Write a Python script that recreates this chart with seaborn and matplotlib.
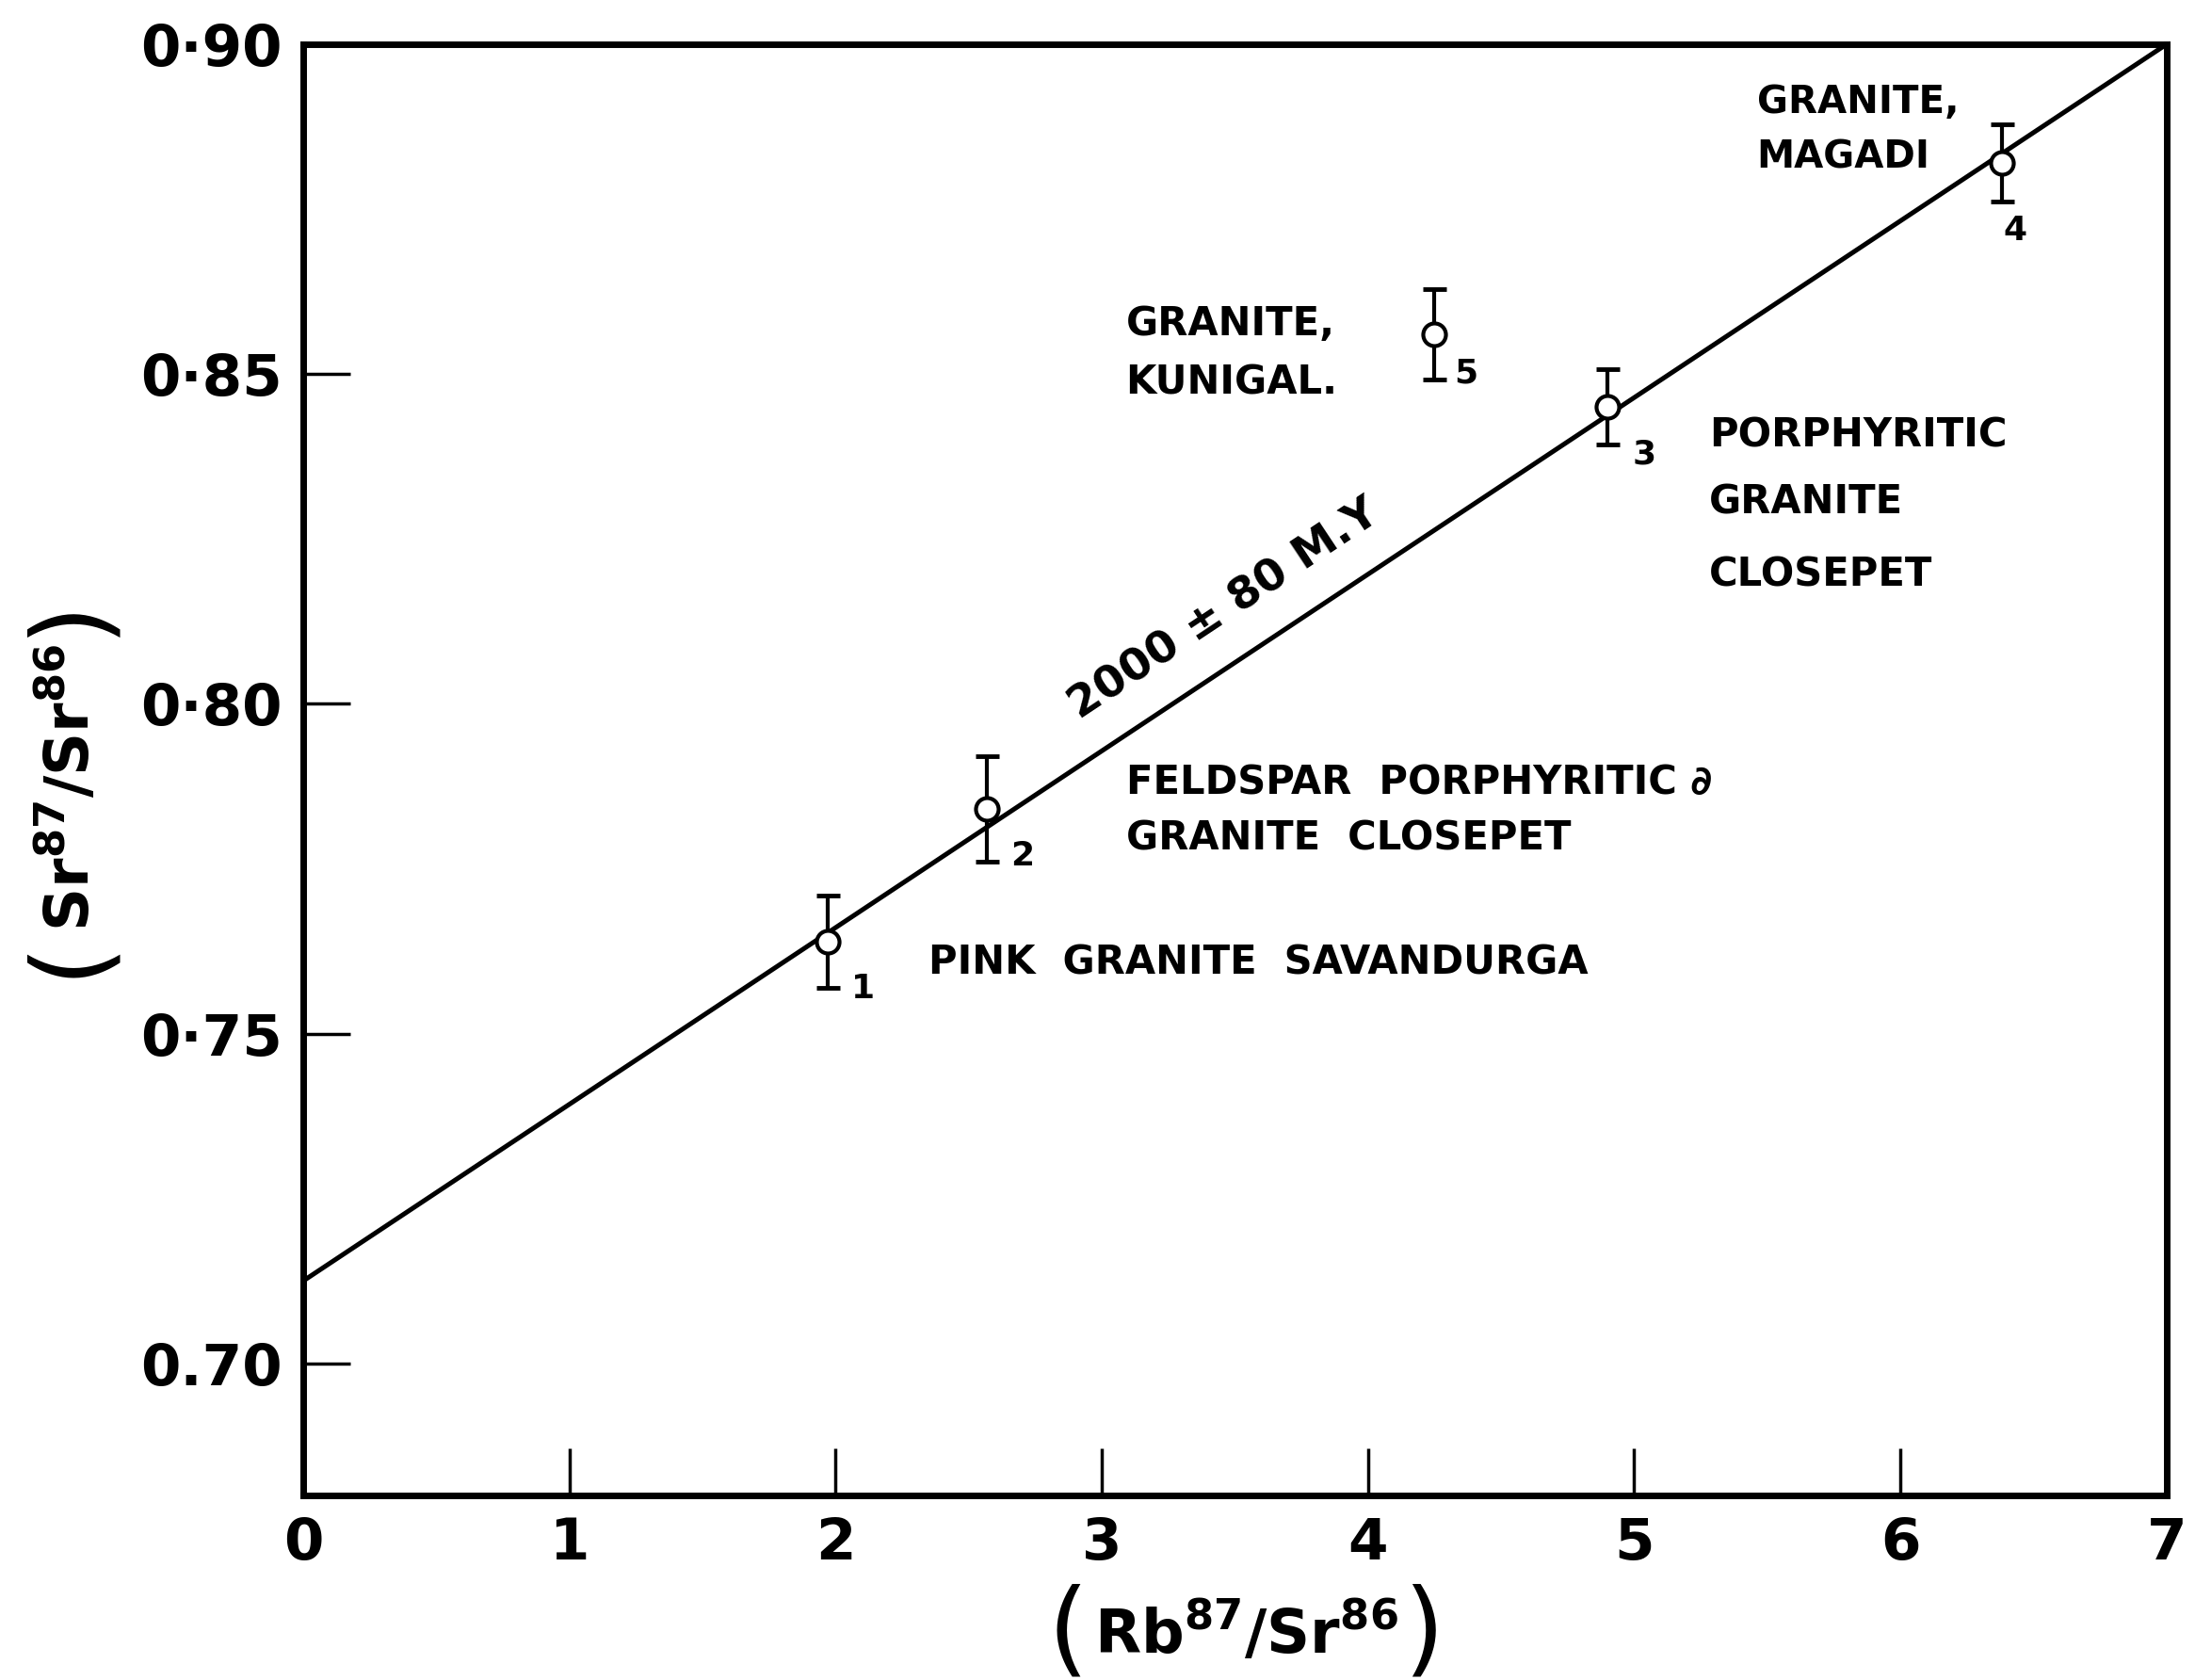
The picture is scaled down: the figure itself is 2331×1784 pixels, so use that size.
import numpy as np
import pandas as pd
import matplotlib
matplotlib.use("Agg")
import matplotlib.pyplot as plt
import seaborn as sns

# Whole-rock samples: Rb87/Sr86 against Sr87/Sr86 with their error bars
sample_ids = ["1", "2", "3", "4", "5"]
rb_sr = [1.97, 2.57, 4.90, 6.38, 4.25]
sr_sr = [0.764, 0.784, 0.845, 0.882, 0.856]
sr_err = [0.007, 0.008, 0.0057, 0.0059, 0.0068]

# Isochron line (2000 ± 80 m.y.)
iso_x = [0.0, 7.0]
iso_y = [0.7125, 0.900]

x_ticks = [0, 1, 2, 3, 4, 5, 6, 7]
x_tick_labels = ["0", "1", "2", "3", "4", "5", "6", "7"]
y_ticks = [0.70, 0.75, 0.80, 0.85, 0.90]
y_tick_labels = ["0.70", "0·75", "0·80", "0·85", "0·90"]

# Rock descriptions written beside the samples
rock_labels = [
    ("GRANITE,", 5.46, 0.8911, 29),
    ("MAGADI", 5.46, 0.8828, 29),
    ("GRANITE,", 3.09, 0.8576, 30),
    ("KUNIGAL.", 3.09, 0.8487, 30),
    ("PORPHYRITIC", 5.28, 0.8407, 30),
    ("GRANITE", 5.28, 0.8305, 30),
    ("CLOSEPET", 5.28, 0.8195, 30),
    ("FELDSPAR  PORPHYRITIC ∂", 3.09, 0.7881, 30),
    ("GRANITE  CLOSEPET", 3.09, 0.7796, 30),
    ("PINK  GRANITE  SAVANDURGA", 2.35, 0.7607, 30),
]
age_label = "2000 ± 80 M.Y"
x_title = r"Rb$^{\mathbf{87}}$/Sr$^{\mathbf{86}}$"
y_title = r"Sr$^{\mathbf{87}}$/Sr$^{\mathbf{86}}$"

df = pd.DataFrame({"id": sample_ids, "rb": rb_sr, "sr": sr_sr, "err": sr_err})

sns.set_theme(style="ticks")
plt.rcParams["font.family"] = ["DejaVu Sans"]
plt.rcParams["mathtext.fontset"] = "dejavusans"
plt.rcParams.update({"text.color": "black", "axes.labelcolor": "black",
                     "xtick.color": "black", "ytick.color": "black"})

fig = plt.figure(figsize=(23.31, 17.84), dpi=100)
ax = fig.add_axes([0.1381, 0.1099, 0.8490, 0.8638])

sns.lineplot(x=iso_x, y=iso_y, ax=ax, color="black", linewidth=3.6, zorder=2)
ax.errorbar(df["rb"], df["sr"], yerr=df["err"], fmt="none", ecolor="black",
            elinewidth=3, capsize=9, capthick=3.5, zorder=3)
sns.scatterplot(data=df, x="rb", y="sr", ax=ax, s=300, color="white",
                edgecolor="black", linewidth=3, zorder=4, legend=False)

ax.set_xlim(0, 7)
ax.set_ylim(0.68, 0.90)
ax.set_xticks(x_ticks, x_tick_labels)
ax.set_yticks(y_ticks, y_tick_labels)
ax.set_xlabel("")
ax.set_ylabel("")
ax.tick_params(direction="in", length=36, width=2.5, labelsize=44, pad=16)
for lbl in ax.get_xticklabels() + ax.get_yticklabels():
    lbl.set_fontweight("bold")
for sp in ax.spines.values():
    sp.set_visible(True)
    sp.set_linewidth(5)
    sp.set_color("black")

# Sample numbers next to each point
offsets = {"1": (27, -36), "2": (27, -36), "3": (28, -36), "4": (10, -52), "5": (24, -30)}
for sid, x, y in zip(df["id"], df["rb"], df["sr"]):
    ax.annotate(sid, (x, y), xytext=offsets[sid], textcoords="offset points",
                fontsize=26, fontweight="bold", ha="center", va="center")

for text, x, y, size in rock_labels:
    ax.text(x, y, text, fontsize=size, fontweight="bold", ha="left", va="center")

# Age label rotated along the isochron
p0 = ax.transData.transform((iso_x[0], iso_y[0]))
p1 = ax.transData.transform((iso_x[1], iso_y[1]))
angle = np.degrees(np.arctan2(p1[1] - p0[1], p1[0] - p0[0]))
ax.text(3.46, 0.8142, age_label, fontsize=34, fontweight="bold",
        rotation=angle, rotation_mode="anchor", ha="center", va="center")

# Axis titles enclosed in tall parentheses
renderer = fig.canvas.get_renderer()
W, H = fig.bbox.width, fig.bbox.height


def bracketed_title(body, cx, cy, vertical):
    rot = 90 if vertical else 0
    t = fig.text(cx, cy, body, fontsize=46, fontweight="bold", rotation=rot,
                 ha="center", va="center")
    bb = t.get_window_extent(renderer)
    gap = 6
    if vertical:
        fig.text(cx, (bb.y0 - gap) / H, "(", fontsize=80, rotation=90,
                 ha="center", va="top")
        fig.text(cx, (bb.y1 + gap) / H, ")", fontsize=80, rotation=90,
                 ha="center", va="bottom")
    else:
        fig.text((bb.x0 - gap) / W, cy, "(", fontsize=80, ha="right", va="center")
        fig.text((bb.x1 + gap) / W, cy, ")", fontsize=80, ha="left", va="center")


bracketed_title(x_title, 0.5676, 0.0275, vertical=False)
bracketed_title(y_title, 0.0317, 0.5314, vertical=True)

fig.savefig("out.png", dpi=100, facecolor="white")
